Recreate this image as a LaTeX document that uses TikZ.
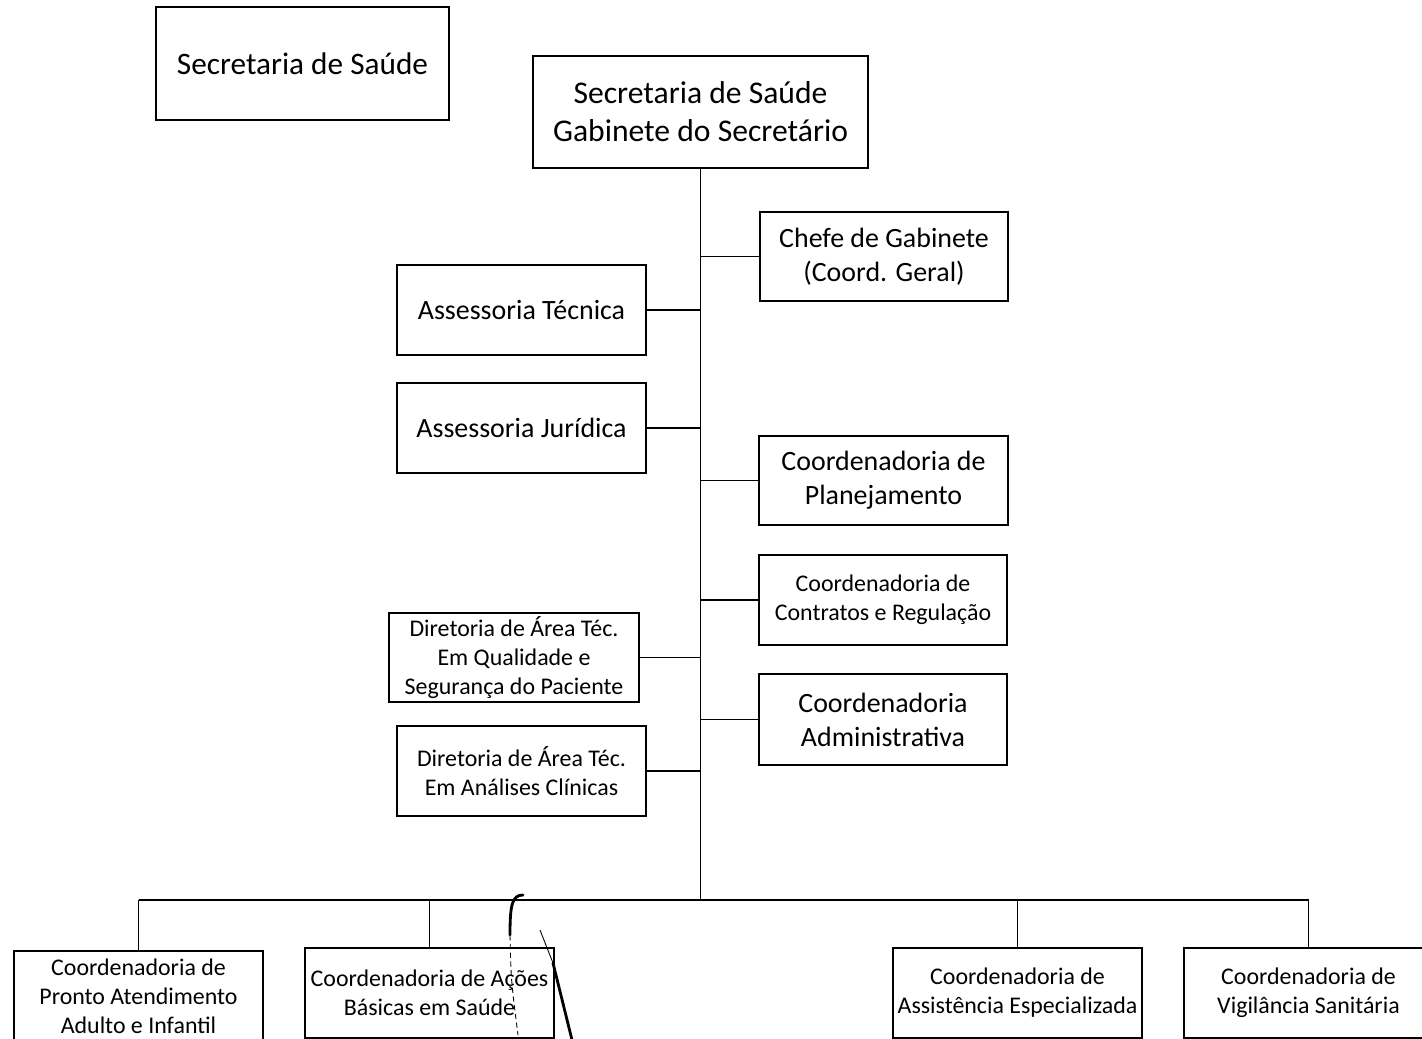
\documentclass[tikz,border=0pt]{standalone}
\usepackage{fontspec}
\setmainfont{Carlito}
\usetikzlibrary{calc}
\tikzset{
  box/.style      = {rectangle, draw, line width=0.8pt, align=center,
                     inner sep=0pt, minimum width=4.98cm, minimum height=1.8cm},
  bigbox/.style   = {box, font=\fontsize{18}{21.5}\selectfont},
  midbox/.style   = {box, font=\fontsize{15.9}{19.3}\selectfont},
  smallbox/.style = {box, font=\fontsize{13.6}{16.4}\selectfont},
  link/.style     = {line width=1.1pt},
  pen/.style      = {line width=1.6pt, line cap=round},
}
\begin{document}
\begin{tikzpicture}[x=0.02cm, y=-0.02cm]
  \useasboundingbox (0,0) rectangle (1422,1038);
  \clip (0,0) rectangle (1422,1038);
  % top
  \node[bigbox, minimum width=5.86cm, minimum height=2.26cm,
        font=\fontsize{17.8}{21}\selectfont] (titulo) at (302.5,63.5) {Secretaria de Saúde};
  \node[bigbox, minimum width=6.7cm, minimum height=2.24cm] (gab) at (700.5,112)
        {Secretaria de Saúde\\Gabinete do Secretário};
  % right column
  \node[midbox, minimum width=4.96cm, minimum height=1.78cm] (chefe) at (884,256.5)
        {Chefe de Gabinete\\(Coord. Geral)};
  \node[midbox, minimum height=1.78cm] (plan)  at (883.5,480.5) {Coordenadoria de\\Planejamento};
  \node[smallbox, minimum width=4.96cm] (contr) at (883,600)  {Coordenadoria de\\Contratos e Regulação};
  \node[midbox, minimum width=4.96cm, minimum height=1.82cm] (admin) at (883,719.5)
        {Coordenadoria\\Administrativa};
  % left column
  \node[midbox]   (asstec) at (521.5,310) {Assessoria Técnica};
  \node[midbox]   (assjur) at (521.5,428) {Assessoria Jurídica};
  \node[smallbox, minimum width=5cm, minimum height=1.78cm] (dirq) at (514,657.5)
        {Diretoria de Área Téc.\\Em Qualidade e\\Segurança do Paciente};
  \node[smallbox] (dira)   at (521.5,771) {Diretoria de Área Téc.\\Em Análises Clínicas};
  % bottom row
  \node[smallbox] (pa)     at (138.5,996)  {Coordenadoria de\\Pronto Atendimento\\Adulto e Infantil};
  \node[smallbox] (acoes)  at (429.5,993)  {Coordenadoria de Ações\\Básicas em Saúde};
  \node[smallbox] (assist) at (1017.5,993) {Coordenadoria de\\Assistência Especializada};
  \node[smallbox] (vigil)  at (1308.5,993) {Coordenadoria de\\Vigilância Sanitária};

  \coordinate (bus) at (700,900);
  \draw[link] (gab.south) -- (gab.south |- bus);
  \foreach \n in {chefe, plan, contr, admin}
    \draw[link] (\n.west) -- (\n.west -| gab.south);
  \foreach \n in {asstec, assjur, dirq, dira}
    \draw[link] (\n.east) -- (\n.east -| gab.south);
  \draw[link] (pa.north |- bus) -- (vigil.north |- bus);
  \foreach \n in {pa, acoes, assist, vigil}
    \draw[link] (\n.north) -- (\n.north |- bus);

  % pen marks
  \draw[pen] (523,895) .. controls (512,895) and (510,905) .. (510,935);
  \draw[line width=0.5pt, densely dashed] (510,935) .. controls (511,980) .. (518,1035);
  \draw[line width=0.5pt] (540,930) -- (553,963);
  \draw[pen] (553,963) -- (572,1040);
\end{tikzpicture}
\end{document}
